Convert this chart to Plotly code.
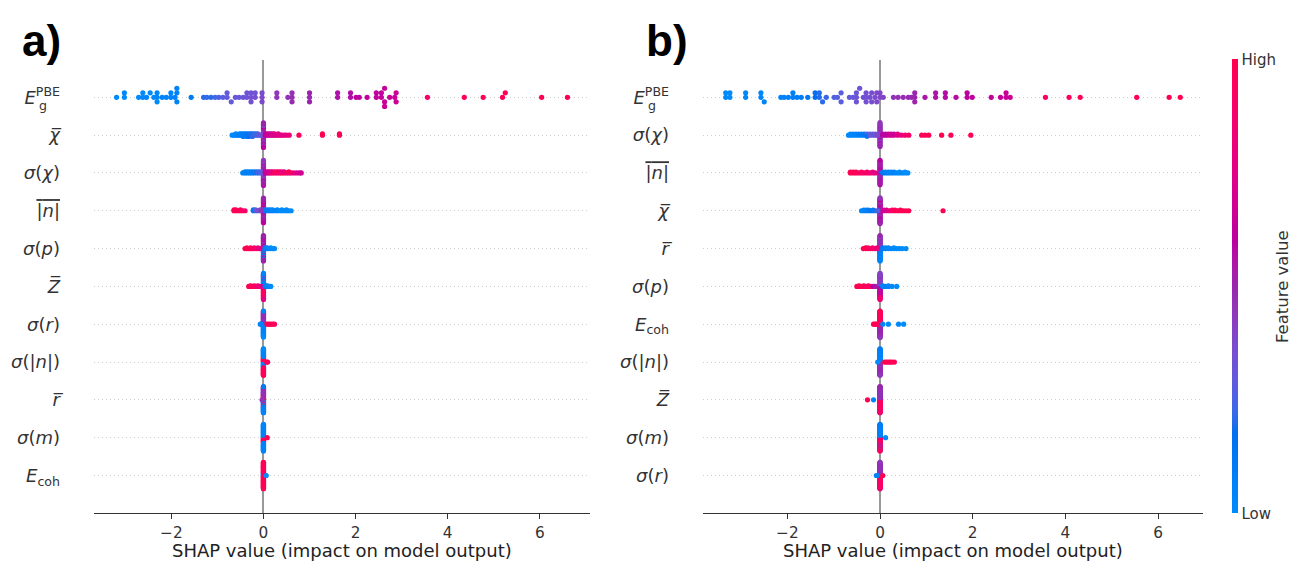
import numpy as np
import plotly.graph_objects as go

# ----------------------------------------------------------------------------
# SHAP summary (beeswarm) data.  Each row is a list of (SHAP value, normalised
# feature value) pairs, one pair per sample.
# ----------------------------------------------------------------------------

OVER = '<span style="text-decoration: overline">%s</span>'

# ---------------- panel a) ----------------
a_labels = [
    "<i>E</i><sup>PBE</sup>",
    "<i>χ̅</i>",
    "<i>σ</i>(<i>χ</i>)",
    OVER % "|<i>n</i>|",
    "<i>σ</i>(<i>p</i>)",
    "<i>Z̅</i>",
    "<i>σ</i>(<i>r</i>)",
    "<i>σ</i>(|<i>n</i>|)",
    "<i>r̅</i>",
    "<i>σ</i>(<i>m</i>)",
    "<i>E</i><sub>coh</sub>",
]

a_eg = [(-3.19,0),(-3.02,0),(-3.02,.02),(-2.71,0),(-2.62,.02),(-2.62,0),(-2.54,.03),(-2.46,0),
        (-2.38,.02),(-2.31,.03),(-2.31,.05),(-2.31,0),(-2.20,.04),(-2.11,.05),(-2.01,.06),(-2.01,.04),
        (-1.92,.06),(-1.88,.07),(-1.88,.05),(-1.88,.06),(-1.57,.12),(-1.30,.2),(-1.23,.22),(-1.14,.2),
        (-1.05,.24),(-0.97,.25),(-0.88,.28),(-0.79,.3),(-0.79,.3),(-0.70,.3),(-0.61,.32),(-0.53,.3),
        (-0.44,.32),(-0.36,.33),(-0.36,.33),(-0.27,.34),(-0.27,.33),(-0.27,.35),(-0.18,.35),(-0.18,.34),
        (-0.03,.38),(-0.03,.37),(-0.03,.38),(0.29,.45),(0.29,.45),(0.53,.46),(0.62,.47),(0.62,.46),
        (0.62,.48),(1.00,.48),(1.00,.5),(1.00,.5),(1.61,.55),(1.61,.56),(1.89,.57),(1.89,.57),
        (2.01,.6),(2.08,.6),(2.25,.62),(2.45,.63),(2.45,.62),(2.56,.64),(2.56,.63),(2.63,.65),
        (2.63,.64),(2.63,.66),(2.74,.65),(2.85,.66),(2.88,.67),(2.88,.66),(3.56,.88),(4.36,.95),
        (4.77,.97),(5.19,.98),(5.25,.98),(6.04,1),(6.60,1)]

a_chi = [(0,.45),(0,.5),(0,.45),(0,.55),(0,.5),(0,.4),(0,.5),(0,.45),(0,.55),(0,.5),(0,.45),
         (0,.6),(0,.5),(0,.4),(0,.55),(0,.5),(0,.45),(0,.5),(0,.6),
         (-.68,.02),(-.64,0),(-.60,.05),(-.60,.03),(-.56,.04),(-.52,.08),(-.52,.05),(-.48,.1),
         (-.48,.06),(-.44,.08),(-.44,.12),(-.44,.1),(-.40,.14),(-.40,.1),(-.36,.12),(-.36,.15),
         (-.36,.1),(-.32,.15),(-.32,.12),(-.32,.18),(-.28,.16),(-.28,.2),(-.24,.18),(-.24,.15),
         (-.24,.22),(-.20,.2),(-.20,.24),(-.16,.25),(-.16,.22),(-.12,.28),(-.12,.26),(-.08,.3),
         (-.04,.33),
         (.04,.6),(.04,.62),(.08,.65),(.08,.63),(.12,.66),(.12,.68),(.16,.7),(.16,.66),(.20,.7),
         (.20,.72),(.24,.68),(.24,.74),(.28,.72),(.32,.75),(.32,.76),(.36,.78),(.40,.75),(.45,.8),
         (.50,.78),(.56,.82),
         (.77,.95),(1.28,.98),(1.28,1),(1.65,1),(1.65,.98)]

a_sx = [(0,.5),(0,.45),(0,.55),(0,.5),(0,.4),(0,.5),(0,.6),(0,.45),(0,.5),(0,.55),(0,.45),
        (0,.5),(0,.4),(0,.55),(0,.5),(0,.45),(0,.6),(0,.5),(0,.45),(0,.55),(0,.5),(0,.4),
        (0,.5),(0,.45),(0,.55),
        (-.45,.05),(-.40,.02),(-.40,.08),(-.35,.05),(-.35,.1),(-.30,.08),(-.30,.04),(-.25,.12),
        (-.25,.1),(-.20,.15),(-.20,.12),(-.15,.18),(-.15,.2),(-.10,.25),(-.10,.22),(-.05,.3),
        (-.05,.28),
        (.04,.6),(.04,.62),(.08,.65),(.08,.68),(.12,.7),(.12,.66),(.16,.9),(.16,.72),(.20,.95),
        (.20,.75),(.25,1),(.25,.9),(.30,.78),(.30,1),(.35,.95),(.35,.8),(.40,1),(.40,.85),
        (.45,.95),(.45,.8),(.50,.9),(.55,.75),(.55,1),(.60,.9),(.66,.8),(.72,.75),(.78,.7),
        (.82,.68)]

a_n = [(0,.55),(0,.5),(0,.6),(0,.55),(0,.45),(0,.6),(0,.5),(0,.65),(0,.55),(0,.5),(0,.6),
       (0,.45),(0,.55),(0,.65),(0,.5),(0,.6),(0,.55),(0,.5),(0,.45),(0,.6),(0,.55),(0,.65),
       (0,.5),(0,.55),(0,.6),(0,.5),(0,.45),(0,.55),(0,.6),(0,.5),
       (-.64,1),(-.64,.98),(-.60,1),(-.60,.95),(-.55,1),(-.50,.97),(-.50,.95),(-.45,.92),(-.40,.9),
       (-.22,.1),(-.22,.15),(-.17,.2),(-.17,.3),(-.12,.35),(-.07,.3),(-.07,.4),(-.03,.45),
       (.05,.12),(.05,.1),(.10,.08),(.10,.1),(.15,.05),(.15,.08),(.20,.05),(.20,.03),(.25,.05),
       (.30,.02),(.30,.04),(.35,0),(.40,.02),(.40,0),(.45,0),(.50,.02),(.50,0),(.55,0),(.60,0)]

a_sp = [(0,.5),
        (0,.55),(0,.1),(0,.5),(0,.05),(0,.6),(0,.15),(0,.5),(0,.1),(0,.55),(0,.4),(0,.45),(0,.05),
        (0,.6),(0,.1),(0,.5),(0,.45),(0,.55),(0,.1),(0,.65),(0,.05),(0,.5),(0,.5),(0,.55),(0,.1),
        (0,.45),(0,.05),(0,.6),(0,.55),(0,.5),(0,.1),(0,.55),(0,.6),(0,.5),(0,.05),(0,.6),(0,.55),
        (0,.55),(0,.5),(0,.5),
        (-.40,1),(-.36,.98),(-.36,1),(-.32,.95),(-.28,1),(-.28,.97),(-.24,.95),(-.20,.9),(-.20,.92),
        (-.16,.88),(-.12,.85),(-.12,.8),(-.08,.8),
        (.04,.1),(.04,.08),(.08,.05),(.08,.06),(.12,.04),(.16,.03),(.16,.02),(.20,0),(.24,0)]

a_z = [(0,.5),
       (0,.05),(0,.9),(0,.1),(0,.95),(0,.05),(0,.85),(0,0),(0,1),(0,.1),(0,.9),(0,.05),(0,.95),
       (0,.15),(0,.8),(0,.05),(0,1),(0,.1),(0,.9),(0,0),(0,.85),(0,.05),(0,.95),(0,.1),(0,1),
       (0,.05),(0,.9),(0,.45),(0,.95),(0,.1),(0,.85),(0,.05),(0,1),(0,.5),(0,.9),(0,.1),(0,.95),
       (0,.05),(0,.8),(0,.45),(0,1),(0,.1),(0,.9),(0,.05),(0,.75),
       (-.32,1),(-.28,.98),(-.28,1),(-.24,.95),(-.20,.97),(-.20,.92),(-.16,.9),(-.12,.88),(-.12,.85),
       (-.08,.8),(-.04,.75),
       (.04,.15),(.04,.1),(.08,.08),(.08,.05),(.12,.05),(.16,0)]

a_sr = [(0,.45),
        (0,.45),(0,.05),(0,.5),(0,.1),(0,.45),(0,0),(0,.4),(0,.05),(0,.5),(0,.1),(0,.45),(0,.05),
        (0,.55),(0,0),(0,.45),(0,.1),(0,.5),(0,.05),(0,.4),(0,.9),(0,.45),(0,.05),(0,.5),(0,.1),
        (0,.45),(0,0),(0,.5),(0,.05),(0,.45),(0,.1),(0,.4),(0,.05),(0,.5),(0,0),(0,.45),(0,.05),
        (0,.5),(0,.1),(0,.45),(0,.05),(0,.4),(0,.1),(0,.5),(0,0),(0,.45),(0,.05),(0,.5),(0,.1),
        (0,.45),(0,.05),(0,.5),(0,0),(0,.45),(0,.05),(0,.4),(0,.1),(0,.5),(0,.05),(0,.45),(0,0),
        (0,.5),(0,.05),(0,.45),(0,.1),(0,.5),(0,.05),(0,.45),(0,0),(0,.05),
        (.08,1),(.12,1),(.16,.98),(.20,1),(.24,.95),
        (-.07,0),(-.05,.05)]

a_sn = [(0,1),
        (0,1),(0,.05),(0,.95),(0,0),(0,1),(0,.1),(0,.9),(0,.05),(0,1),(0,0),(0,.95),(0,.05),
        (0,1),(0,.1),(0,.9),(0,0),(0,1),(0,.05),(0,.95),(0,.1),(0,1),(0,0),(0,.9),(0,.05),
        (0,1),(0,.1),(0,.95),(0,0),(0,1),(0,.05),
        (0,.05),(0,1),(0,0),(0,.95),(0,.1),(0,1),(0,.05),(0,.9),(0,0),(0,1),(0,.05),(0,.95),
        (0,.1),(0,1),(0,0),(0,.9),(0,.05),(0,1),(0,.1),(0,.95),(0,0),(0,1),(0,.05),(0,.9),
        (0,.1),(0,1),(0,0),(0,.95),(0,.05),(0,1),(0,.1),(0,.9),(0,0),(0,1),(0,.05),(0,.95),
        (0,.1),(0,1),(0,0),(0,.9),(0,.05),(0,1),(0,0),(0,.95),
        (.07,1),(.09,.95)]

a_r = [(0,.45),
       (0,.95),(0,.05),(0,1),(0,.1),(0,.9),(0,.05),(0,.95),(0,0),(0,1),(0,.1),(0,.9),(0,.05),
       (0,.95),(0,.45),(0,1),(0,.05),(0,.9),(0,.1),(0,.95),(0,.05),(0,1),(0,.4),(0,.9),(0,.05),
       (0,.45),(0,1),(0,.5),(0,.95),(0,.45),(0,.05),(0,.4),(0,.1),(0,.5),(0,.05),(0,.45),(0,1),
       (0,.5),(0,.95),(0,.45),(0,.05),(0,.4),(0,.1),(0,.5),(0,.05),(0,.45),(0,.1),(0,.5),(0,0),
       (0,.45),(0,.05),(0,.4),(0,.1),(0,.5),(0,.05),(0,.45),(0,0),(0,.5),(0,.05),(0,.45),(0,.1),
       (0,.4),(0,.05),(0,.5),(0,.1),(0,.45),(0,.05),(0,.5),(0,0),(0,.45),(0,.05),(0,.5),(0,.1),
       (0,.45),(0,.05),(0,.1),
       (-.03,.45)]

a_sm = [(0,.05),
        (0,.05),(0,.95),(0,.1),(0,1),(0,0),(0,.9),(0,.05),(0,1),(0,.1),(0,.85),(0,.05),(0,1),
        (0,0),(0,.95),(0,.1),(0,.9),(0,.05),(0,1),(0,0),(0,.95),(0,.1),(0,.85),(0,.05),(0,1),
        (0,.1),(0,.9),(0,0),(0,.95),(0,.05),(0,1),
        (0,.1),(0,.05),(0,.05),(0,.1),(0,0),(0,.05),(0,.1),(0,0),(0,.05),(0,.1),(0,.1),(0,.05),
        (0,0),(0,.1),(0,.05),(0,0),(0,.1),(0,.05),(0,.05),(0,.1),(0,0),(0,.05),(0,.1),(0,0),
        (0,.05),(0,.1),(0,.1),(0,.05),(0,0),(0,.1),(0,.05),(0,0),(0,.1),(0,.05),(0,.05),(0,.1),
        (0,0),(0,.05),(0,.1),(0,0),(0,.05),(0,.1),(0,.05),(0,.05),
        (.08,1)]

a_ec = [(0,.05),
        (0,.1),(0,.95),(0,.05),(0,1),(0,.1),(0,.9),(0,.05),(0,1),(0,.1),(0,.95),(0,0),(0,1),
        (0,1),(0,.95),(0,.9),(0,1),(0,.95),(0,1),(0,1),(0,.9),(0,.95),(0,1),(0,1),(0,.95),
        (0,.9),(0,1),(0,.95),(0,1),(0,1),(0,.9),(0,.95),(0,1),(0,1),(0,.95),(0,.9),(0,1),
        (0,.95),(0,1),(0,1),(0,.9),(0,.95),(0,1),(0,1),(0,.95),(0,.9),(0,1),(0,.95),(0,1),
        (0,1),(0,.9),(0,.95),(0,1),(0,1),(0,.95),(0,.9),(0,1),(0,.95),(0,1),(0,1),(0,.9),
        (0,.95),(0,1),(0,1),(0,.95),(0,.9),(0,1),(0,.95),(0,1),(0,1),(0,.9),(0,.95),(0,1),
        (0,1),(0,.95),
        (.06,0)]

# ---------------- panel b) ----------------
b_labels = [
    "<i>E</i><sup>PBE</sup>",
    "<i>σ</i>(<i>χ</i>)",
    OVER % "|<i>n</i>|",
    "<i>χ̅</i>",
    "<i>r̅</i>",
    "<i>σ</i>(<i>p</i>)",
    "<i>E</i><sub>coh</sub>",
    "<i>σ</i>(|<i>n</i>|)",
    "<i>Z̅</i>",
    "<i>σ</i>(<i>m</i>)",
    "<i>σ</i>(<i>r</i>)",
]

b_eg = [(-3.33,0),(-3.33,0),(-3.24,0),(-3.24,0),(-2.90,.02),(-2.90,.02),(-2.57,.03),(-2.57,.03),
        (-2.50,.04),(-2.14,.06),(-2.07,.06),(-1.98,.07),(-1.88,.08),(-1.88,.08),(-1.79,.09),(-1.70,.1),
        (-1.56,.12),(-1.40,.18),(-1.40,.18),(-1.31,.2),(-1.31,.2),(-1.24,.21),(-1.16,.22),
        (-.99,.26),(-.92,.27),(-.84,.28),(-.84,.28),
        (-.66,.3),(-.58,.31),(-.51,.32),(-.51,.32),(-.51,.33),(-.44,.33),(-.36,.34),(-.30,.34),
        (-.30,.35),(-.30,.35),(-.22,.35),(-.18,.36),(-.18,.36),(-.11,.37),(-.07,.37),(-.07,.38),
        (0,.38),(0,.39),(.07,.4),
        (.29,.46),(.39,.47),(.50,.48),(.61,.48),(.68,.49),(.75,.5),(.75,.5),(.75,.51),
        (.97,.54),(1.20,.55),(1.20,.55),(1.41,.57),(1.41,.57),(1.64,.58),
        (1.88,.6),(1.88,.6),(1.99,.61),(2.40,.63),(2.60,.64),(2.72,.65),(2.72,.65),(2.81,.66),
        (3.57,.92),(4.08,.95),(4.32,.96),(5.54,.98),(6.24,1),(6.48,1)]

b_sx = [(0,.45),(0,.5),(0,.4),(0,.45),(0,.5),(0,.55),(0,.45),(0,.4),(0,.5),(0,.45),(0,.55),
        (0,.5),(0,.4),(0,.45),(0,.5),(0,.45),(0,.55),(0,.5),(0,.45),(0,.4),(0,.5),(0,.45),
        (-.68,0),(-.64,.02),(-.64,0),(-.58,.03),(-.58,.05),(-.52,.02),(-.52,.06),(-.46,.04),
        (-.46,.08),(-.40,.05),(-.40,.1),(-.34,.08),(-.34,.12),(-.28,.1),(-.28,.25),(-.28,.15),
        (-.22,.3),(-.22,.28),(-.16,.32),(-.16,.3),(-.10,.35),(-.10,.33),(-.05,.38),
        (.06,.58),(.06,.6),(.12,.62),(.12,.6),(.18,.65),(.18,.63),(.24,.68),(.24,.66),(.30,.7),
        (.30,.68),(.38,.72),(.38,.75),(.46,.8),(.54,.85),(.62,.9),
        (.90,.95),(.97,.98),(1.05,1),(1.33,1),(1.53,.98),(1.96,1)]

b_n = [(0,.55),(0,.5),(0,.6),(0,.5),(0,.55),(0,.45),(0,.6),(0,.5),(0,.55),(0,.65),(0,.5),
       (0,.55),(0,.45),(0,.6),(0,.5),(0,.55),(0,.6),(0,.5),(0,.45),(0,.55),(0,.6),(0,.5),
       (0,.55),(0,.65),(0,.5),(0,.45),(0,.55),(0,.6),
       (-.64,1),(-.64,.98),(-.58,1),(-.58,.97),(-.52,.95),(-.52,1),(-.46,.93),(-.40,.95),
       (-.40,.9),(-.34,.92),(-.28,.88),(-.28,.9),(-.22,.85),(-.16,.87),(-.16,.8),(-.10,.75),
       (.06,.15),(.06,.12),(.12,.1),(.12,.08),(.18,.1),(.18,.05),(.24,.08),(.24,.05),(.30,.04),
       (.30,.05),(.36,.02),(.42,.03),(.42,0),(.48,.02),(.54,0),(.54,0),(.60,0)]

b_chi = [(0,.5),(0,.45),(0,.55),(0,.5),(0,.6),(0,.45),(0,.55),(0,.5),(0,.6),(0,.55),(0,.45),
         (0,.5),(0,.65),(0,.55),(0,.5),(0,.6),(0,.45),(0,.55),(0,.5),(0,.65),(0,.55),(0,.5),
         (0,.6),(0,.45),(0,.55),(0,.5),(0,.6),(0,.55),(0,.45),(0,.65),(0,.5),(0,.55),(0,.6),
         (0,.45),(0,.5),
         (-.40,0),(-.35,.02),(-.35,.05),(-.30,.03),(-.30,.08),(-.25,.06),(-.25,.1),(-.20,.12),
         (-.15,.15),(-.15,.12),(-.10,.2),(-.05,.25),
         (.08,.65),(.08,.7),(.14,.75),(.14,.72),(.20,.8),(.26,.85),(.26,.9),(.32,.95),(.32,1),
         (.38,.98),(.44,1),(.44,.97),(.50,1),(.56,.98),(.62,1),(1.36,1)]

b_r = [(0,.45),
       (0,.45),(0,.1),(0,.5),(0,.05),(0,.45),(0,.15),(0,.4),(0,.05),(0,.5),(0,.1),(0,.45),(0,.05),
       (0,.5),(0,.1),(0,.45),(0,.05),(0,.4),(0,.1),(0,.5),(0,.05),(0,.45),(0,0),(0,.5),(0,.1),
       (0,.45),(0,.05),(0,.4),(0,.1),(0,.5),(0,.05),(0,.45),(0,0),(0,.5),(0,.05),(0,.45),(0,.1),
       (0,.4),(0,.05),(0,.5),
       (-.36,1),(-.31,.98),(-.31,1),(-.26,.95),(-.26,.97),(-.21,.92),(-.16,.9),(-.16,.88),(-.11,.85),
       (-.06,.8),(-.06,.82),
       (.06,.15),(.06,.1),(.12,.08),(.12,.05),(.18,.06),(.18,.04),(.24,.03),(.30,.02),(.30,0),
       (.36,.02),(.42,0),(.48,0),(.56,0)]

b_sp = [(0,.45),
        (0,.3),(0,.55),(0,.35),(0,.5),(0,.3),(0,.6),(0,.4),(0,.55),(0,.3),(0,.5),(0,.35),(0,.6),
        (0,.4),(0,.55),(0,.45),(0,.65),(0,.4),(0,.5),(0,.35),(0,.6),(0,.45),(0,.55),(0,.4),(0,.7),
        (0,.45),(0,.6),(0,.4),(0,.65),(0,.45),(0,.55),(0,.4),(0,.7),(0,.45),(0,.6),(0,.4),(0,.75),
        (0,.45),(0,.8),(0,.4),(0,.85),(0,.45),(0,.9),(0,.4),(0,.85),
        (-.50,1),(-.45,1),(-.45,.98),(-.40,1),(-.35,.97),(-.35,1),(-.30,.95),(-.25,.97),(-.25,.95),
        (-.20,.9),(-.15,.6),(-.10,.55),
        (.06,.1),(.06,.05),(.12,.08),(.18,.03),(.18,.05),(.26,.02),(.36,0)]

b_ec = [(0,.5),
        (0,.95),(0,.5),(0,1),(0,.45),(0,.9),(0,.5),(0,.95),(0,.55),(0,1),(0,.45),(0,.9),(0,.5),
        (0,.95),(0,.45),(0,1),(0,.5),(0,.9),(0,.55),(0,.95),(0,.45),(0,1),(0,.5),(0,.9),(0,.45),
        (0,.95),(0,.5),(0,1),(0,.55),(0,.9),(0,.45),(0,.95),(0,.5),(0,1),(0,.45),(0,.9),(0,.5),
        (0,.95),(0,.55),(0,1),(0,.45),(0,.9),(0,.5),(0,.95),(0,.45),(0,1),(0,.5),(0,.9),(0,.55),
        (0,.95),(0,.45),(0,1),(0,.5),(0,.9),(0,.45),(0,.95),(0,.5),(0,1),(0,.55),(0,.9),(0,.45),
        (0,.95),(0,.5),(0,1),(0,.45),
        (-.14,1),(-.11,.98),(-.08,1),(-.05,.95),(-.03,.97),
        (.06,.05),(.18,0),(.40,.02),(.51,0)]

b_sn = [(0,.3),
        (0,.05),(0,.45),(0,.1),(0,.5),(0,0),(0,.45),(0,.05),(0,.4),(0,.1),(0,.5),(0,.05),(0,.45),
        (0,0),(0,.55),(0,.1),(0,.45),(0,.05),(0,.5),(0,0),(0,.4),(0,.1),(0,.45),(0,.05),(0,.5),
        (0,.1),(0,.55),(0,0),(0,.45),(0,.05),(0,.5),(0,.1),(0,.4),(0,.05),(0,.45),(0,0),(0,.5),
        (0,.05),(0,.45),(0,.1),(0,.55),(0,.05),(0,.5),(0,0),(0,.45),(0,.1),(0,.4),(0,.05),(0,.5),
        (0,.05),(0,.45),(0,.1),(0,.5),(0,0),(0,.55),(0,.05),(0,.45),(0,.1),(0,.5),(0,.05),(0,.4),
        (0,0),(0,.45),(0,.05),(0,.5),(0,.1),(0,.45),
        (-.05,0),
        (.10,1),(.14,.98),(.18,1),(.22,.95),(.26,1),(.31,.97)]

b_z = [(0,.45),
       (0,.45),(0,.9),(0,.5),(0,.95),(0,.4),(0,1),(0,.5),(0,.85),(0,.45),(0,.95),(0,.5),(0,.9),
       (0,.45),(0,1),(0,.4),(0,.85),(0,.5),(0,.95),(0,.45),(0,.9),(0,.5),(0,1),(0,.45),(0,.8),
       (0,.4),(0,.95),(0,.5),(0,.9),(0,.45),(0,1),(0,.5),(0,.85),(0,.45),(0,.95),(0,.4),(0,.9),
       (0,.5),(0,1),(0,.45),(0,.85),(0,.5),(0,.95),(0,.45),(0,.9),(0,.4),(0,1),(0,.5),(0,.8),
       (0,.45),(0,.95),(0,.5),(0,.9),(0,.45),(0,.85),(0,.4),(0,1),(0,.5),(0,.9),(0,.45),(0,.95),
       (0,.5),(0,.85),(0,.45),(0,1),(0,.4),(0,.9),(0,.5),(0,.95),(0,.45),(0,.85),(0,.5),
       (-.27,1),(-.14,.05)]

b_sm = [(0,.5),
        (0,.05),(0,.9),(0,.1),(0,.95),(0,0),(0,.85),(0,.05),(0,1),(0,.1),(0,.9),(0,.05),(0,.95),
        (0,0),(0,.85),(0,.1),(0,1),(0,.05),(0,.9),(0,0),(0,.95),(0,.1),(0,.85),(0,.05),(0,1),
        (0,.1),(0,.9),(0,0),(0,.95),(0,.05),(0,.85),(0,.1),(0,1),(0,.05),(0,.9),(0,0),(0,.95),
        (0,.05),(0,.85),(0,.1),(0,1),(0,.05),(0,.5),(0,0),(0,.9),(0,.1),(0,.55),(0,.05),(0,.95),
        (0,0),(0,.5),(0,.1),(0,.85),(0,.05),(0,.45),(0,.1),(0,.9),(0,0),(0,.5),(0,.05),(0,.95),
        (0,.1),(0,.55),(0,.05),(0,.85),(0,0),(0,.5),(0,.1),(0,.9),(0,.05),(0,.45),(0,.1),(0,.95),
        (.12,0)]

b_sr = [(0,.5),
        (0,.45),(0,.9),(0,.5),(0,.95),(0,.4),(0,.85),(0,.5),(0,1),(0,.45),(0,.9),(0,.5),(0,.95),
        (0,.45),(0,.85),(0,.4),(0,1),(0,.5),(0,.9),(0,.45),(0,.95),(0,.5),(0,.85),(0,.45),(0,1),
        (0,.4),(0,.9),(0,.5),(0,.95),(0,.45),(0,.85),(0,.5),(0,1),(0,.45),(0,.9),(0,.4),(0,.95),
        (0,.5),(0,.85),(0,.45),(0,1),(0,.5),(0,.9),(0,.45),(0,.95),(0,.4),(0,.85),(0,.5),(0,1),
        (0,.45),(0,.9),(0,.5),(0,.95),(0,.45),(0,.85),(0,.4),(0,1),(0,.5),(0,.9),(0,.45),(0,.95),
        (0,.5),(0,.85),(0,.45),(0,1),(0,.4),(0,.9),(0,.5),(0,.95),(0,.45),(0,.85),
        (-.08,0),(-.06,.05),(.06,1)]

a_rows = [a_eg, a_chi, a_sx, a_n, a_sp, a_z, a_sr, a_sn, a_r, a_sm, a_ec]
b_rows = [b_eg, b_sx, b_n, b_chi, b_r, b_sp, b_ec, b_sn, b_z, b_sm, b_sr]

X_TICKS = [-2, 0, 2, 4, 6]
X_TITLE = "SHAP value (impact on model output)"
CBAR_TITLE = "Feature value"

# ----------------------------------------------------------------------------
# colour map: blue -> purple -> red, interpolated in LCH space
# ----------------------------------------------------------------------------
def lch_to_hex(l, c, h):
    a, b = c * np.cos(h), c * np.sin(h)
    fy = (l + 16.0) / 116.0
    fx, fz = fy + a / 500.0, fy - b / 200.0

    def finv(t):
        return t ** 3 if t ** 3 > 0.008856 else (t - 16.0 / 116.0) / 7.787

    X, Y, Z = 0.95047 * finv(fx), finv(fy), 1.08883 * finv(fz)
    lin = [3.2406 * X - 1.5372 * Y - 0.4986 * Z,
           -0.9689 * X + 1.8758 * Y + 0.0415 * Z,
           0.0557 * X - 0.2040 * Y + 1.0570 * Z]
    out = []
    for u in lin:
        u = min(max(u, 0.0), 1.0)
        u = 1.055 * u ** (1 / 2.4) - 0.055 if u > 0.0031308 else 12.92 * u
        out.append(int(round(min(max(u, 0.0), 1.0) * 255)))
    return "#%02x%02x%02x" % tuple(out)


def red_blue_scale(n=41):
    blue_lch = (54.0, 70.0, 4.6588)
    red_lch = (54.0, 90.0, 0.35470565 + 2 * np.pi)
    l_mid = 40.0
    stops = []
    for k in range(n):
        t = k / (n - 1)
        if t <= 0.5:
            l = blue_lch[0] + (l_mid - blue_lch[0]) * 2 * t
        else:
            l = l_mid + (red_lch[0] - l_mid) * 2 * (t - 0.5)
        c = blue_lch[1] + (red_lch[1] - blue_lch[1]) * t
        h = blue_lch[2] + (red_lch[2] - blue_lch[2]) * t
        stops.append([t, lch_to_hex(l, c, h)])
    return stops


# ----------------------------------------------------------------------------
# beeswarm layout: values are binned along x and stacked alternately up/down
# ----------------------------------------------------------------------------
def swarm_offsets(values, row_height=0.4, nbins=100):
    v = np.asarray(values, dtype=float)
    span = v.max() - v.min()
    quant = np.round(nbins * (v - v.min()) / (span + 1e-8))
    order = np.argsort(quant, kind="stable")
    ys = np.zeros(len(v))
    layer, last = 0, None
    for i in order:
        if quant[i] != last:
            layer = 0
        ys[i] = np.ceil(layer / 2) * ((layer % 2) * 2 - 1)
        layer += 1
        last = quant[i]
    ys *= 0.9 * (row_height / np.max(ys + 1))
    return ys


W, H = 1293, 563
PLOT_TOP, PLOT_BOTTOM = 59.5, 513.3           # px
Y_DOMAIN = [1 - PLOT_BOTTOM / H, 1 - PLOT_TOP / H]
PANELS = [
    dict(rows=a_rows, labels=a_labels, xpx=(94, 590), xa="x", ya="y", tag="a)", tagx=20),
    dict(rows=b_rows, labels=b_labels, xpx=(703, 1203), xa="x2", ya="y2", tag="b)", tagx=644),
]

FONT = "DejaVu Sans"
AXIS_COLOR = "#333333"

fig = go.Figure()
layout = dict(
    width=W, height=H, margin=dict(l=0, r=0, t=0, b=0),
    paper_bgcolor="white", plot_bgcolor="white", showlegend=False,
    coloraxis=dict(
        colorscale=red_blue_scale(), cmin=0, cmax=1,
        colorbar=dict(
            x=1232 / W, xanchor="left", xpad=0, ypad=0,
            y=1 - (PLOT_TOP + PLOT_BOTTOM) / 2 / H, yanchor="middle",
            len=(PLOT_BOTTOM - PLOT_TOP) / H, lenmode="fraction",
            thickness=6, thicknessmode="pixels", outlinewidth=0,
            tickvals=[0, 1], ticktext=["Low", "High"], ticks="",
            tickfont=dict(family=FONT, size=15, color=AXIS_COLOR),
        ),
    ),
)
annotations = [dict(
    text=CBAR_TITLE, xref="paper", yref="paper", x=1282 / W, y=1 - 287 / H,
    xanchor="center", yanchor="middle", textangle=-90, showarrow=False,
    font=dict(family=FONT, size=16.5, color=AXIS_COLOR),
)]

for p in PANELS:
    rows, n = p["rows"], len(p["rows"])
    xs, ys, cs = [], [], []
    lo = min(v for r in rows for v, _ in r)
    hi = max(v for r in rows for v, _ in r)
    pad = 0.05 * (hi - lo)
    for i, row in enumerate(rows):
        vals = [v for v, _ in row]
        offs = swarm_offsets(vals)
        pos = n - 1 - i
        xs += vals
        ys += list(pos + offs)
        cs += [f for _, f in row]
    fig.add_trace(go.Scatter(
        x=xs, y=ys, mode="markers", xaxis=p["xa"], yaxis=p["ya"],
        marker=dict(size=5.2, color=cs, coloraxis="coloraxis", line=dict(width=0)),
        hoverinfo="skip", showlegend=False,
    ))
    x0, x1 = p["xpx"]
    xkey = "xaxis" if p["xa"] == "x" else "xaxis2"
    ykey = "yaxis" if p["ya"] == "y" else "yaxis2"
    layout[xkey] = dict(
        domain=[x0 / W, x1 / W], range=[lo - pad, hi + pad], anchor=p["ya"],
        showline=True, linecolor=AXIS_COLOR, linewidth=1.1, mirror=False,
        ticks="outside", ticklen=5, tickwidth=1.1, tickcolor=AXIS_COLOR,
        tickvals=X_TICKS, tickfont=dict(family=FONT, size=15.3, color=AXIS_COLOR),
        showgrid=False, zeroline=True, zerolinecolor="#999999", zerolinewidth=1.6,
        automargin=False, fixedrange=True,
    )
    layout[ykey] = dict(
        domain=Y_DOMAIN, range=[-1, n], anchor=p["xa"],
        tickvals=list(range(n)), ticktext=p["labels"][::-1],
        ticks="", showline=False, zeroline=False, ticklabelstandoff=33,
        tickfont=dict(family=FONT, size=18, color=AXIS_COLOR),
        showgrid=True, gridcolor="#cccccc", gridwidth=1, griddash="1px,3px",
        automargin=False, fixedrange=True,
    )
    # subscript "g" of E_g^PBE, stacked under the superscript
    annotations.append(dict(
        text="g", xref="paper", yref=p["ya"], x=(x0 - 57) / W, y=n - 1,
        xanchor="left", yanchor="middle", yshift=-8, showarrow=False,
        font=dict(family=FONT, size=12.6, color=AXIS_COLOR),
    ))
    annotations.append(dict(
        text=X_TITLE, xref="paper", yref="paper", x=(x0 + x1) / 2 / W, y=1 - 550 / H,
        xanchor="center", yanchor="middle", showarrow=False,
        font=dict(family=FONT, size=18, color="#222222"),
    ))
    annotations.append(dict(
        text="<b>%s</b>" % p["tag"], xref="paper", yref="paper", x=p["tagx"] / W, y=1 - 41 / H,
        xanchor="left", yanchor="middle", showarrow=False,
        font=dict(family="Liberation Sans", size=44, color="black"),
    ))

layout["annotations"] = annotations
fig.update_layout(**layout)
fig.write_html("out.html")
